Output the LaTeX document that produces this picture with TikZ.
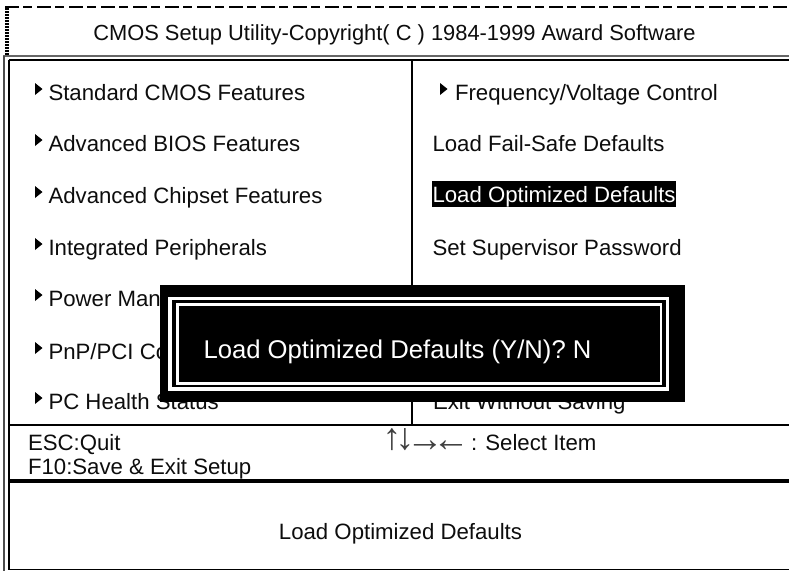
\documentclass[tikz,border=0pt]{standalone}
\usepackage{fontspec}
\setmainfont{Liberation Sans}
\tikzset{
  x=0.75pt,y=-0.75pt,
  lab/.style={anchor=base west,inner sep=0pt,outer sep=0pt,font=\fontsize{16.65}{17}\selectfont,text=black!95},
  arr/.style={anchor=base,inner sep=0pt,outer sep=0pt,font=\fontsize{28}{28}\selectfont,text=black!75},
  dlg/.style={anchor=base west,inner sep=0pt,outer sep=0pt,font=\fontsize{19.25}{20}\selectfont,text=white}
}
\newcommand{\tri}[1]{\fill[black] (#1) ++(0,-6) -- ++(7.5,6) -- ++(-7.5,6) -- cycle;}
\begin{document}
\begin{tikzpicture}
\useasboundingbox (0,0) rectangle (789,571);
\fill[white] (0,0) rectangle (789,571);
% dotted frame
\draw[line width=1.5pt,dash pattern=on 10.5pt off 3pt on 6.75pt off 3.75pt] (5,7) -- (789,7);
\draw[line width=3pt,dash pattern=on 1.5pt off 0.75pt] (7,8) -- (7,55);
% outer frame
\draw[line width=0.9pt,black!60] (3,56) -- (789,56);
\draw[line width=1.6pt] (8.7,60) -- (789,60);
\draw[line width=1.3pt,black!70] (4,55.5) -- (4,571);
\draw[line width=1.7pt] (8.7,60) -- (8.7,570);
\draw[line width=1.1pt] (412,60) -- (412,426);
\draw[line width=1.1pt] (8,425) -- (789,425);
\draw[line width=2.8pt] (8,481) -- (789,481);
\draw[line width=0.9pt] (8,569.7) -- (789,569.7);
% left menu
\foreach \n/\y/\t in {a/100/{Standard CMOS Features},b/151/{Advanced BIOS Features},c/203/{Advanced Chipset Features},d/255/{Integrated Peripherals},e/306/{Power Man},f/359/{PnP/PCI Con},g/409/{PC Health Status}}{
  \node[lab] (\n) at (48.5,\y) {\t};
}
\foreach \y in {89,140,192,244,295,348,398}{\tri{35,\y}}
% right menu
\tri{440,89}
\node[lab] (r1) at (455,100) {Frequency/Voltage Control};
\node[lab] (r2) at (432.5,151) {Load Fail-Safe Defaults};
\fill[black] (432.3,181) rectangle (675.7,206.7);
\node[lab,text=white] (r3) at (432.5,202.7) {Load Optimized Defaults};
\node[lab] (r4) at (432.5,255) {Set Supervisor Password};
\node[lab] (r5) at (433,409) {Exit Without Saving};
% footer
\node[lab] (f1) at (28,450) {ESC:Quit};
\node[lab] (f2) at (28,474) {F10:Save \& Exit Setup};
\node[lab] (f3) at (471,450) {: Select Item};
\node[arr] (u) at (392,449) {↑};
\node[arr] (dn) at (405,449) {↓};
\node[arr] (ra) at (425,451) {→};
\node[arr] (la) at (451,451) {←};
\node[lab,anchor=base] (f5) at (400.5,539) {Load Optimized Defaults};
\node[lab,anchor=base,font=\fontsize{16.4}{17}\selectfont] (t) at (394.5,40) {CMOS Setup Utility-Copyright( C ) 1984-1999 Award Software};
% dialog
\fill[black] (160,285) rectangle (685,402);
\fill[white] (168.3,296.7) rectangle (669,390.7);
\fill[black] (171.7,300) rectangle (666,387.3);
\fill[white] (175.7,302.7) rectangle (662,385);
\fill[black] (179.3,305.7) rectangle (659.7,381.7);
\node[dlg] (d) at (203.5,358) {Load Optimized Defaults (Y/N)? N};
\end{tikzpicture}
\end{document}
